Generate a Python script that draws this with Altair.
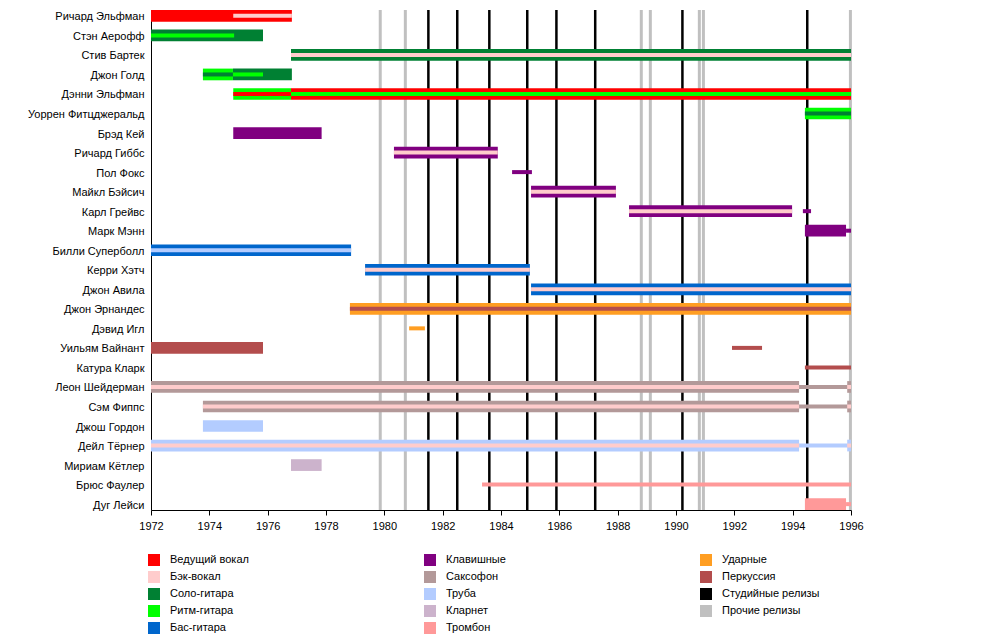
import altair as alt
import pandas as pd

members = [
    "Ричард Эльфман", "Стэн Аерофф", "Стив Бартек", "Джон Голд", "Дэнни Эльфман",
    "Уоррен Фитцджеральд", "Брэд Кей", "Ричард Гиббс", "Пол Фокс", "Майкл Бэйсич",
    "Карл Грейвс", "Марк Мэнн", "Билли Суперболл", "Керри Хэтч", "Джон Авила",
    "Джон Эрнандес", "Дэвид Игл", "Уильям Вайнант", "Катура Кларк", "Леон Шейдерман",
    "Сэм Фиппс", "Джош Гордон", "Дейл Тёрнер", "Мириам Кётлер", "Брюс Фаулер", "Дуг Лейси",
]

roles = [
    "Ведущий вокал", "Бэк-вокал", "Соло-гитара", "Ритм-гитара", "Бас-гитара",
    "Клавишные", "Саксофон", "Труба", "Кларнет", "Тромбон",
    "Ударные", "Перкуссия", "Студийные релизы", "Прочие релизы",
]
role_colors = [
    "#ff0000", "#ffcccc", "#008033", "#00ff00", "#0066cc",
    "#800080", "#b39999", "#b3ccff", "#ccb3cc", "#ff9999",
    "#ff9e22", "#b34d4d", "#000000", "#c0c0c0",
]

# (member, role, start, end) -- wide bars
full_bars = [
    ("Ричард Эльфман", "Ведущий вокал", 1972, 1976.83),
    ("Стэн Аерофф", "Соло-гитара", 1972, 1975.84),
    ("Стив Бартек", "Соло-гитара", 1976.8, 1996),
    ("Джон Голд", "Ритм-гитара", 1973.78, 1974.81),
    ("Джон Голд", "Соло-гитара", 1974.81, 1976.83),
    ("Дэнни Эльфман", "Ритм-гитара", 1974.82, 1976.8),
    ("Дэнни Эльфман", "Ведущий вокал", 1976.8, 1996),
    ("Уоррен Фитцджеральд", "Ритм-гитара", 1994.42, 1996),
    ("Брэд Кей", "Клавишные", 1974.82, 1977.85),
    ("Ричард Гиббс", "Клавишные", 1980.33, 1983.89),
    ("Майкл Бэйсич", "Клавишные", 1985.03, 1987.94),
    ("Карл Грейвс", "Клавишные", 1988.39, 1993.98),
    ("Марк Мэнн", "Клавишные", 1994.42, 1995.83),
    ("Билли Суперболл", "Бас-гитара", 1972, 1978.86),
    ("Керри Хэтч", "Бас-гитара", 1979.34, 1984.99),
    ("Джон Авила", "Бас-гитара", 1985.03, 1996),
    ("Джон Эрнандес", "Ударные", 1978.82, 1996),
    ("Уильям Вайнант", "Перкуссия", 1972, 1975.84),
    ("Леон Шейдерман", "Саксофон", 1972, 1994.22),
    ("Леон Шейдерман", "Саксофон", 1995.87, 1996),
    ("Сэм Фиппс", "Саксофон", 1973.78, 1994.22),
    ("Сэм Фиппс", "Саксофон", 1995.87, 1996),
    ("Джош Гордон", "Труба", 1973.78, 1975.84),
    ("Дейл Тёрнер", "Труба", 1972, 1994.22),
    ("Дейл Тёрнер", "Труба", 1995.87, 1996),
    ("Мириам Кётлер", "Кларнет", 1976.8, 1977.85),
    ("Дуг Лейси", "Тромбон", 1994.42, 1995.83),
]

# (member, role, start, end) -- thin bars
thin_bars = [
    ("Ричард Эльфман", "Бэк-вокал", 1974.82, 1976.83),
    ("Стэн Аерофф", "Ритм-гитара", 1972, 1974.85),
    ("Стив Бартек", "Бэк-вокал", 1976.8, 1996),
    ("Джон Голд", "Соло-гитара", 1973.78, 1974.81),
    ("Джон Голд", "Ритм-гитара", 1974.81, 1975.84),
    ("Дэнни Эльфман", "Ведущий вокал", 1974.82, 1976.8),
    ("Дэнни Эльфман", "Ритм-гитара", 1976.8, 1996),
    ("Уоррен Фитцджеральд", "Соло-гитара", 1994.42, 1996),
    ("Ричард Гиббс", "Бэк-вокал", 1980.33, 1983.89),
    ("Пол Фокс", "Клавишные", 1984.38, 1985.06),
    ("Майкл Бэйсич", "Бэк-вокал", 1985.03, 1987.94),
    ("Карл Грейвс", "Бэк-вокал", 1988.39, 1993.98),
    ("Карл Грейвс", "Клавишные", 1994.35, 1994.63),
    ("Марк Мэнн", "Клавишные", 1995.83, 1996),
    ("Билли Суперболл", "Труба", 1972, 1978.86),
    ("Керри Хэтч", "Бэк-вокал", 1979.34, 1984.99),
    ("Джон Авила", "Бэк-вокал", 1985.03, 1996),
    ("Джон Эрнандес", "Перкуссия", 1978.82, 1996),
    ("Дэвид Игл", "Ударные", 1980.85, 1981.39),
    ("Уильям Вайнант", "Перкуссия", 1991.92, 1992.95),
    ("Катура Кларк", "Перкуссия", 1994.42, 1996),
    ("Леон Шейдерман", "Бэк-вокал", 1972, 1994.22),
    ("Леон Шейдерман", "Саксофон", 1994.22, 1995.87),
    ("Леон Шейдерман", "Бэк-вокал", 1995.87, 1996),
    ("Сэм Фиппс", "Бэк-вокал", 1973.78, 1994.22),
    ("Сэм Фиппс", "Саксофон", 1994.22, 1995.87),
    ("Сэм Фиппс", "Бэк-вокал", 1995.87, 1996),
    ("Дейл Тёрнер", "Бэк-вокал", 1972, 1994.22),
    ("Дейл Тёрнер", "Труба", 1994.22, 1995.87),
    ("Дейл Тёрнер", "Бэк-вокал", 1995.87, 1996),
    ("Брюс Фаулер", "Тромбон", 1983.35, 1996),
    ("Дуг Лейси", "Тромбон", 1995.83, 1996),
]

studio_releases = [1981.51, 1982.5, 1983.6, 1984.9, 1985.9, 1987.23, 1990.22, 1994.5]
other_releases = [1979.86, 1980.72, 1988.81, 1989.12, 1990.8, 1990.94, 1995.98]

FONT = "Liberation Sans"

full_df = pd.DataFrame(full_bars, columns=["member", "role", "start", "end"])
thin_df = pd.DataFrame(thin_bars, columns=["member", "role", "start", "end"])
studio_df = pd.DataFrame({"year": studio_releases})
other_df = pd.DataFrame({"year": other_releases})

color_scale = alt.Scale(domain=roles, range=role_colors)
year_scale = alt.Scale(domain=[1972, 1996], nice=False, zero=False)

x_enc = alt.X(
    "start:Q",
    scale=year_scale,
    axis=alt.Axis(
        values=list(range(1972, 1997)),
        format="d",
        labelExpr="datum.value % 2 == 0 ? datum.label : ''",
        tickSize={"condition": {"test": "datum.value % 2 === 0", "value": 5}, "value": 3},
        grid=False,
        title=None,
        domainColor="black",
        tickColor="black",
        labelColor="black",
        labelFont=FONT,
        labelFontSize=11,
        labelPadding=5,
        labelFlush=False,
    ),
)
y_enc = alt.Y(
    "member:N",
    sort=members,
    scale=alt.Scale(type="point", padding=0.3, domain=members),
    axis=alt.Axis(
        title=None,
        ticks=False,
        labelPadding=7,
        labelOffset=1,
        domainColor="black",
        labelColor="black",
        labelFont=FONT,
        labelFontSize=11,
        labelLimit=300,
        minExtent=138,
        maxExtent=138,
    ),
)

other_layer = alt.Chart(other_df).mark_rule(color="#c0c0c0", strokeWidth=3).encode(
    x=alt.X("year:Q", scale=year_scale)
)
studio_layer = alt.Chart(studio_df).mark_rule(color="black", strokeWidth=2.5).encode(
    x=alt.X("year:Q", scale=year_scale)
)
full_layer = alt.Chart(full_df).mark_rule(strokeWidth=11.7, strokeCap="butt").encode(
    x=x_enc,
    x2="end:Q",
    y=y_enc,
    color=alt.Color("role:N", scale=color_scale, legend=None),
)
thin_layer = alt.Chart(thin_df).mark_rule(strokeWidth=4, strokeCap="butt").encode(
    x=alt.X("start:Q"),
    x2="end:Q",
    y=alt.Y("member:N", sort=members),
    color=alt.Color("role:N", scale=color_scale, legend=None),
)

main = alt.layer(other_layer, studio_layer, full_layer, thin_layer).properties(width=700, height=500)

# legend laid out in three columns, five rows (column-major order)
leg_df = pd.DataFrame({
    "role": roles,
    "col": [i // 5 for i in range(len(roles))],
    "row": [i % 5 for i in range(len(roles))],
})
leg_w, leg_h = 700, 85
col_step, col_left = 276.0, 3.0
row_step, row_top = 17.0, 17.0
lx = alt.X("col:Q", scale=alt.Scale(domain=[-col_left / col_step, (leg_w - col_left) / col_step], nice=False, zero=False), axis=None)
ly = alt.Y("row:Q", scale=alt.Scale(domain=[-row_top / row_step, (leg_h - row_top) / row_step], nice=False, zero=False, reverse=True), axis=None)

leg_sw = alt.Chart(leg_df).mark_square(size=144, opacity=1, filled=True).encode(
    x=lx, y=ly, color=alt.Color("role:N", scale=color_scale, legend=None)
)
leg_tx = alt.Chart(leg_df).mark_text(align="left", baseline="middle", dx=16, fontSize=11, font=FONT, color="black").encode(
    x=lx, y=ly, text="role:N"
)
legend = alt.layer(leg_sw, leg_tx).properties(width=leg_w, height=leg_h)

chart = alt.vconcat(main, legend, spacing=12).properties(
    padding={"left": 5, "top": 0, "right": 5, "bottom": 0}
).configure(font=FONT).configure_view(strokeWidth=0, stroke="transparent")

chart.save("out.html", embed_options={"renderer": "svg", "actions": False})
